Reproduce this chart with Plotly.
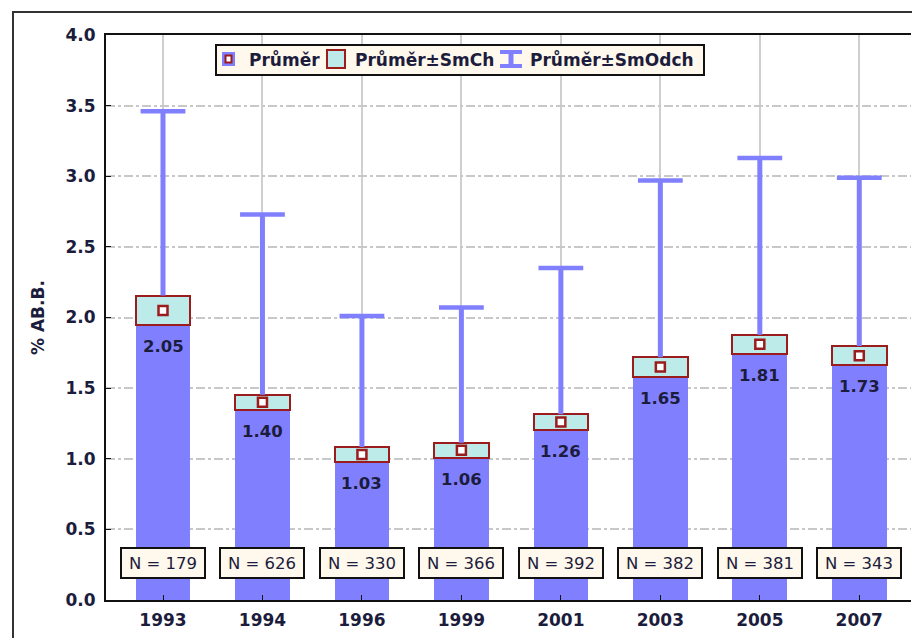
import plotly.graph_objects as go

# ---- data ----
years = ["1993", "1994", "1996", "1999", "2001", "2003", "2005", "2007"]
means = [2.05, 1.40, 1.03, 1.06, 1.26, 1.65, 1.81, 1.73]
se = [0.105, 0.053, 0.054, 0.053, 0.055, 0.068, 0.068, 0.068]      # standard error (SmCh)
sd = [1.41, 1.33, 0.98, 1.01, 1.09, 1.32, 1.32, 1.26]              # standard deviation (SmOdch)
counts = [179, 626, 330, 366, 392, 382, 381, 343]
y_ticks = [0.0, 0.5, 1.0, 1.5, 2.0, 2.5, 3.0, 3.5, 4.0]
legend_labels = ["Průměr", "Průměr±SmCh", "Průměr±SmOdch"]
y_title = "% AB.B."

BLUE = "#8080FF"
CYAN = "#BDEBE9"
DRED = "#9A1C1C"
CREAM = "#FFF8EC"
TXT = "#1C1C3C"
FONT = "DejaVu Sans, Verdana, Arial, sans-serif"

W, H = 912, 638
ML, MR, MT, MB = 106, 1, 35, 38
PW, PH = W - ML - MR, H - MT - MB


def px(x):
    return (x - ML) / PW


def py(y):
    return (H - MB - y) / PH


idx = list(range(len(years)))
lower = [m - s for m, s in zip(means, se)]
box_h = [2 * s for s in se]
upper = [m + s for m, s in zip(means, se)]
top = [m + d for m, d in zip(means, sd)]

wx, wy = [], []
for yr, u, t in zip(years, upper, top):
    wx += [yr, yr, None]
    wy += [u, t, None]

fig = go.Figure()
# blue bar up to mean - SE
fig.add_trace(go.Bar(x=years, y=lower, width=0.55, marker=dict(color=BLUE, line=dict(width=0)),
                     showlegend=False, hoverinfo="skip"))
# SE box
fig.add_trace(go.Bar(x=years, y=box_h, base=lower, width=0.55,
                     marker=dict(color=CYAN, line=dict(color=DRED, width=2)),
                     showlegend=False, hoverinfo="skip"))
# SD whisker (vertical line) from top of SE box up to mean + SD
fig.add_trace(go.Scatter(x=wx, y=wy, mode="lines", line=dict(color=BLUE, width=5),
                         showlegend=False, hoverinfo="skip"))
# whisker caps
fig.add_trace(go.Scatter(x=years, y=top, mode="markers",
                         marker=dict(symbol="line-ew", size=32, line=dict(color=BLUE, width=4.5)),
                         showlegend=False, hoverinfo="skip"))
# mean marker
fig.add_trace(go.Scatter(x=years, y=means, mode="markers",
                         marker=dict(symbol="square", size=9, color="white", line=dict(color=DRED, width=2.5)),
                         showlegend=False, hoverinfo="skip"))

annotations = []
for i, lo, m in zip(idx, lower, means):
    annotations.append(dict(x=i, y=lo, xref="x", yref="y", text=f"{m:.2f}", showarrow=False,
                            yanchor="top", yshift=-10,
                            font=dict(family=FONT, size=16.5, color=TXT, weight="bold")))
for i, n in zip(idx, counts):
    annotations.append(dict(x=i, y=0.26, xref="x", yref="y", text=f"N = {n}", showarrow=False,
                            bgcolor=CREAM, bordercolor="#111111", borderwidth=2, borderpad=3,
                            width=76, height=22,
                            font=dict(family=FONT, size=16.5, color=TXT)))

annotations.append(dict(x=px(38), y=py(318), xref="paper", yref="paper", text=y_title, showarrow=False,
                        xanchor="center", yanchor="middle",
                        textangle=-90, font=dict(family=FONT, size=17, color=TXT, weight="bold")))

# legend texts
for lab, xx in zip(legend_labels, [247, 353, 528]):
    annotations.append(dict(x=px(xx), y=py(60), xref="paper", yref="paper", text=lab, showarrow=False,
                            xanchor="left", yanchor="middle",
                            font=dict(family=FONT, size=17, color=TXT, weight="bold")))

shapes = [
    # outer frame
    dict(type="path", xref="paper", yref="paper", layer="above",
         path=f"M {px(13)},{py(660)} L {px(13)},{py(12)} L {px(930)},{py(12)}",
         line=dict(color="#333333", width=2)),
    # legend box
    dict(type="rect", xref="paper", yref="paper", layer="above",
         x0=px(216), x1=px(704), y0=py(75), y1=py(45),
         fillcolor=CREAM, line=dict(color="#111111", width=2)),
    # legend item 1
    dict(type="rect", xref="paper", yref="paper", layer="above",
         x0=px(222), x1=px(235), y0=py(66), y1=py(52), fillcolor=BLUE, line=dict(width=0)),
    dict(type="rect", xref="paper", yref="paper", layer="above",
         x0=px(225.5), x1=px(231.5), y0=py(62.5), y1=py(55.5), fillcolor="white",
         line=dict(color=DRED, width=2)),
    # legend item 2
    dict(type="rect", xref="paper", yref="paper", layer="above",
         x0=px(327), x1=px(345), y0=py(68), y1=py(50), fillcolor=CYAN,
         line=dict(color=DRED, width=2)),
    # legend item 3 (I-beam)
    dict(type="line", xref="paper", yref="paper", layer="above",
         x0=px(500), x1=px(522), y0=py(52), y1=py(52), line=dict(color=BLUE, width=4)),
    dict(type="line", xref="paper", yref="paper", layer="above",
         x0=px(500), x1=px(522), y0=py(66), y1=py(66), line=dict(color=BLUE, width=4)),
    dict(type="line", xref="paper", yref="paper", layer="above",
         x0=px(511), x1=px(511), y0=py(52), y1=py(66), line=dict(color=BLUE, width=5)),
]

fig.update_layout(
    width=W, height=H,
    margin=dict(l=ML, r=MR, t=MT, b=MB, pad=0),
    paper_bgcolor="white", plot_bgcolor="white",
    barmode="overlay", bargap=0,
    showlegend=False,
    annotations=annotations,
    shapes=shapes,
    font=dict(family=FONT, color=TXT),
)
fig.update_xaxes(
    type="category", range=[-0.573, 7.52],
    showline=True, linecolor="#111111", linewidth=2, mirror=True,
    ticks="inside", ticklen=5, tickcolor="#111111", tickwidth=1,
    showgrid=True, gridcolor="#cfcfcf", gridwidth=1.5,
    ticklabelstandoff=4,
    tickfont=dict(family=FONT, size=17, color=TXT, weight="bold"),
    fixedrange=True,
)
fig.update_yaxes(
    range=[0, 4], tickvals=y_ticks, ticktext=[f"{v:.1f}" for v in y_ticks],
    showline=True, linecolor="#111111", linewidth=2, mirror=False,
    ticks="inside", ticklen=5, tickcolor="#111111", tickwidth=1,
    showgrid=True, gridcolor="#c8c8c8", gridwidth=1.5, griddash="dashdot",
    zeroline=False, ticklabelstandoff=5,
    tickfont=dict(family=FONT, size=17, color=TXT, weight="bold"),
    fixedrange=True,
)

fig.write_html("out.html", config={"displayModeBar": False},
               post_script="document.body.style.margin='0';document.body.style.overflow='hidden';")
